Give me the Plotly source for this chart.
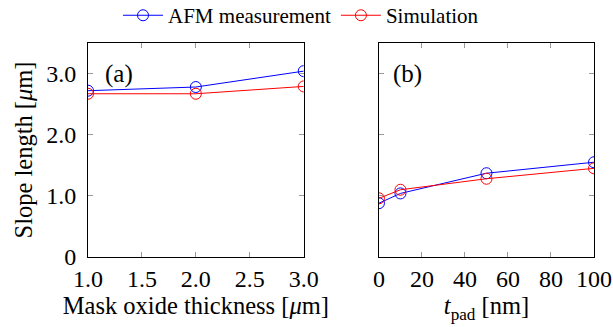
import plotly.graph_objects as go

# Data
mask_x = [1.0, 2.0, 3.0]
mask_afm = [2.72, 2.78, 3.04]
mask_sim = [2.67, 2.67, 2.79]

tpad_x = [0, 10, 50, 100]
tpad_afm = [0.88, 1.04, 1.37, 1.55]
tpad_sim = [0.96, 1.10, 1.28, 1.45]

y_ticks = [0, 1, 2, 3]
y_ticktext = ["0", "1.0", "2.0", "3.0"]
xa_ticks = [1.0, 1.5, 2.0, 2.5, 3.0]
xa_ticktext = ["1.0", "1.5", "2.0", "2.5", "3.0"]
xb_ticks = [0, 20, 40, 60, 80, 100]

BLUE = "#0000ff"
RED = "#ff0000"
FONT = "Liberation Serif"

fig = go.Figure()

def add(x, y, color, name, xaxis, yaxis, show):
    fig.add_trace(go.Scatter(
        x=x, y=y, mode="lines+markers", name=name, showlegend=show,
        line=dict(color=color, width=1),
        marker=dict(symbol="circle-open", size=11, color=color, line=dict(width=1, color=color)),
        xaxis=xaxis, yaxis=yaxis))

add(mask_x, mask_afm, BLUE, "AFM measurement", "x", "y", True)
add(mask_x, mask_sim, RED, "Simulation", "x", "y", True)
add(tpad_x, tpad_afm, BLUE, "AFM measurement", "x2", "y2", False)
add(tpad_x, tpad_sim, RED, "Simulation", "x2", "y2", False)

axis_common = dict(showline=True, linecolor="black", linewidth=1, mirror="ticks",
                   ticks="inside", ticklen=5, tickcolor="#999999", showgrid=False,
                   zeroline=False, automargin=False,
                   tickfont=dict(family=FONT, size=24, color="black"))

TITLE_FONT = dict(family=FONT, size=24.5, color="black")

fig.update_layout(
    width=613, height=327,
    margin=dict(l=88, r=19, t=43, b=70, autoexpand=False),
    paper_bgcolor="white", plot_bgcolor="white",
    font=dict(family=FONT, size=21, color="black"),
    xaxis=dict(domain=[0, 0.4263], range=[1.0, 3.0], tickvals=xa_ticks, ticktext=xa_ticktext,
               title=dict(text="Mask oxide thickness [<i>μ</i>m]", standoff=6, font=TITLE_FONT),
               anchor="y", **axis_common),
    yaxis=dict(domain=[0, 1], range=[0, 3.5], tickvals=y_ticks, ticktext=y_ticktext,
               ticklabelstandoff=6,
               title=dict(text="Slope length [<i>μ</i>m]", standoff=6, font=TITLE_FONT),
               anchor="x", **axis_common),
    xaxis2=dict(domain=[0.575, 1], range=[0, 100], tickvals=xb_ticks,
                title=dict(text="<i>t</i><sub>pad</sub> [nm]", standoff=6, font=TITLE_FONT),
                anchor="y2", **axis_common),
    yaxis2=dict(domain=[0, 1], range=[0, 3.5], tickvals=y_ticks, showticklabels=False,
                anchor="x2", **axis_common),
    legend=dict(orientation="h", x=0.421, xanchor="center", y=1.128, yanchor="middle",
                font=dict(family=FONT, size=21), itemwidth=40, tracegroupgap=0,
                bgcolor="rgba(0,0,0,0)"),
    annotations=[
        dict(text="(a)", x=1.29, y=3.0, xref="x", yref="y", showarrow=False,
             font=dict(family=FONT, size=25)),
        dict(text="(b)", x=13.5, y=3.0, xref="x2", yref="y2", showarrow=False,
             font=dict(family=FONT, size=25)),
    ],
)

fig.write_html("out.html", config={"displayModeBar": False},
               post_script="document.body.style.margin='0';")
